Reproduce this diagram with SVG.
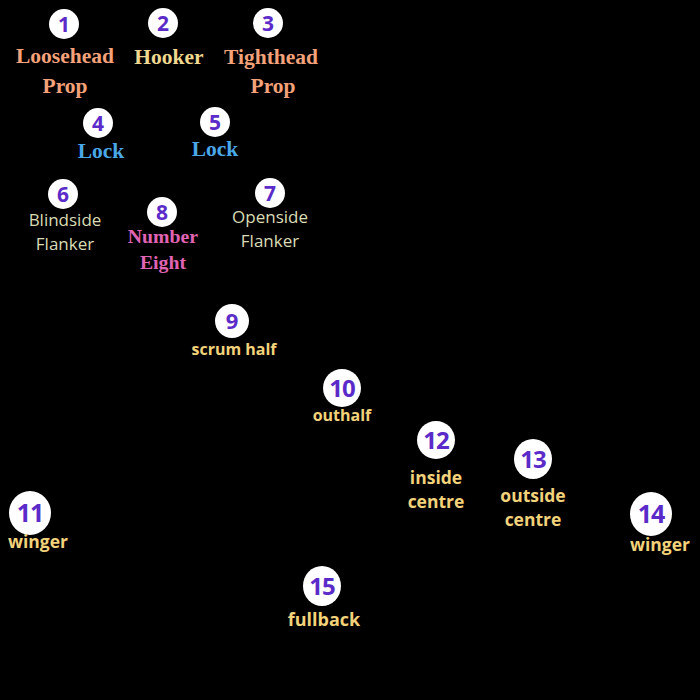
<svg xmlns="http://www.w3.org/2000/svg" width="700" height="700" viewBox="0 0 700 700">
<style>
.c{fill:#fff}
.n{font-family:"Open Sans","Liberation Sans",sans-serif;font-weight:bold;fill:#5b2bc9;text-anchor:middle}
.s{font-family:"Liberation Serif",serif;font-weight:bold;text-anchor:middle;font-size:21.5px}
.f{font-family:"Open Sans","Liberation Sans",sans-serif;text-anchor:middle;font-size:17px;fill:#d9dcb4}
.b{font-family:"Open Sans","Liberation Sans",sans-serif;font-weight:bold;text-anchor:middle;font-size:17.5px;fill:#f2d27a}
</style>
<rect width="700" height="700" fill="#000"/>
<g id="connectors"/>
<g id="p1"><circle class="c" cx="64" cy="24" r="15"/><text class="n" x="64" y="32" font-size="21">1</text><text class="s" x="65" y="63" fill="#f4a27a">Loosehead</text><text class="s" x="65" y="93" fill="#f4a27a">Prop</text></g>
<g id="p2"><circle class="c" cx="163" cy="23" r="15"/><text class="n" x="163" y="31" font-size="21">2</text><text class="s" x="169" y="64" fill="#f0d890">Hooker</text></g>
<g id="p3"><circle class="c" cx="268" cy="23" r="15"/><text class="n" x="268" y="31" font-size="21">3</text><text class="s" x="271" y="64" fill="#f4a27a">Tighthead</text><text class="s" x="273" y="93" fill="#f4a27a">Prop</text></g>
<g id="p4"><circle class="c" cx="98" cy="123" r="15"/><text class="n" x="98" y="131" font-size="21">4</text><text class="s" x="101" y="158" fill="#4aa8e8">Lock</text></g>
<g id="p5"><circle class="c" cx="215" cy="122" r="15"/><text class="n" x="215" y="130" font-size="21">5</text><text class="s" x="215" y="156" fill="#4aa8e8">Lock</text></g>
<g id="p6"><circle class="c" cx="63" cy="194" r="15"/><text class="n" x="63" y="202" font-size="21">6</text><text class="f" x="65" y="226">Blindside</text><text class="f" x="65" y="250">Flanker</text></g>
<g id="p7"><circle class="c" cx="270" cy="193" r="15"/><text class="n" x="270" y="201" font-size="21">7</text><text class="f" x="270" y="223">Openside</text><text class="f" x="270" y="247">Flanker</text></g>
<g id="p8"><circle class="c" cx="162" cy="212" r="15"/><text class="n" x="162" y="220" font-size="21">8</text><text class="s" x="163" y="243" fill="#e064b4" style="font-size:19.8px">Number</text><text class="s" x="163" y="269" fill="#e064b4" style="font-size:19.8px">Eight</text></g>
<g id="p9"><circle class="c" cx="232" cy="321" r="17"/><text class="n" x="232" y="329" font-size="22">9</text><text class="b" x="234" y="355" style="font-size:16px">scrum half</text></g>
<g id="p10"><circle class="c" cx="342" cy="388" r="19"/><text class="n" x="342" y="397" font-size="24" letter-spacing="-1">10</text><text class="b" x="342" y="421" style="font-size:16px">outhalf</text></g>
<g id="p11"><ellipse class="c" cx="30" cy="513" rx="21" ry="22"/><text class="n" x="30" y="522" font-size="25" letter-spacing="-1">11</text><text class="b" x="38" y="548">winger</text></g>
<g id="p12"><circle class="c" cx="436" cy="440" r="19"/><text class="n" x="436" y="449" font-size="24" letter-spacing="-1">12</text><text class="b" x="436" y="484">inside</text><text class="b" x="436" y="508">centre</text></g>
<g id="p13"><ellipse class="c" cx="533" cy="459" rx="19" ry="20"/><text class="n" x="533" y="468" font-size="24" letter-spacing="-1">13</text><text class="b" x="533" y="502">outside</text><text class="b" x="533" y="526">centre</text></g>
<g id="p14"><ellipse class="c" cx="651" cy="514" rx="21" ry="22"/><text class="n" x="651" y="523" font-size="25" letter-spacing="-1">14</text><text class="b" x="660" y="551">winger</text></g>
<g id="p15"><ellipse class="c" cx="322" cy="586" rx="19" ry="20"/><text class="n" x="322" y="595" font-size="24" letter-spacing="-1">15</text><text class="b" x="324" y="626" style="font-size:18px">fullback</text></g>
</svg>
